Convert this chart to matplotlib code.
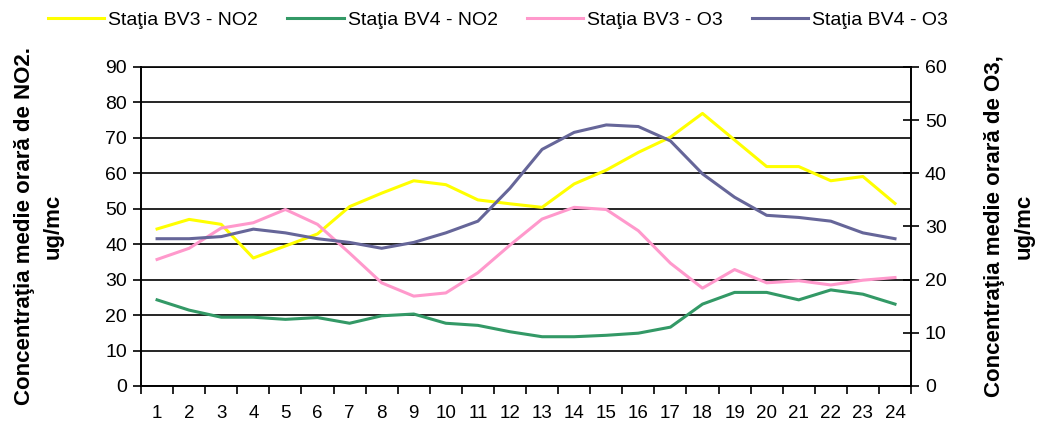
import matplotlib.pyplot as plt
import numpy as np

plt.rcParams['font.family'] = ['Liberation Sans', 'DejaVu Sans']

hours = list(range(1, 25))
bv3_no2 = [44.3, 47.0, 45.6, 36.1, 39.5, 42.9, 50.6, 54.4, 57.9, 56.8, 52.5, 51.4,
           50.4, 57.0, 60.9, 65.9, 70.2, 76.9, 69.4, 61.9, 61.9, 57.9, 59.1, 51.5]
bv4_no2 = [24.3, 21.4, 19.4, 19.4, 18.8, 19.3, 17.7, 19.8, 20.3, 17.7, 17.1, 15.3,
           13.9, 13.9, 14.3, 14.9, 16.6, 23.1, 26.4, 26.4, 24.3, 27.1, 25.9, 23.1]
bv3_o3 = [23.8, 25.9, 29.7, 30.7, 33.2, 30.4, 25.0, 19.4, 16.9, 17.5, 21.3, 26.5,
          31.4, 33.6, 33.2, 29.2, 23.1, 18.4, 21.9, 19.4, 19.8, 19.0, 19.9, 20.4]
bv4_o3 = [27.7, 27.7, 28.1, 29.5, 28.8, 27.7, 27.0, 25.9, 27.0, 28.8, 31.0, 37.2,
          44.5, 47.7, 49.1, 48.8, 46.1, 39.9, 35.5, 32.1, 31.7, 31.0, 28.8, 27.7]

labels = ['Staţia BV3 - NO2', 'Staţia BV4 - NO2', 'Staţia BV3 - O3', 'Staţia BV4 - O3']
colors = ['#FFFF00', '#339966', '#FF99CC', '#666699']

fig = plt.figure(figsize=(10.4, 4.25), dpi=100)
ax = fig.add_axes([0.1356, 0.0918, 0.7404, 0.7506])
ax2 = ax.twinx()

l1, = ax.plot(hours, bv3_no2, color=colors[0], lw=2.2, zorder=3)
l2, = ax.plot(hours, bv4_no2, color=colors[1], lw=2.2, zorder=3)
l3, = ax2.plot(hours, bv3_o3, color=colors[2], lw=2.2)
l4, = ax2.plot(hours, bv4_o3, color=colors[3], lw=2.2)

ax.set_xlim(0.5, 24.5)
ax.set_ylim(0, 90)
ax2.set_ylim(0, 60)
ax.set_yticks(np.arange(0, 91, 10))
ax2.set_yticks(np.arange(0, 61, 10))
ax.set_xticks(hours)
ax.set_xticks(np.arange(0.5, 25, 1), minor=True)
ax.tick_params(axis='x', which='major', length=0, labelsize=13.5, pad=14)
ax.tick_params(axis='x', which='minor', length=6, width=1.2, direction='out')
ax.tick_params(axis='y', length=6, width=1.2, direction='out', labelsize=14, pad=4)
ax2.tick_params(axis='y', length=12, width=1.2, direction='inout', labelsize=14, pad=4)

ax.yaxis.grid(True, color='black', lw=1.2)
ax.set_axisbelow(True)
for a in (ax, ax2):
    for s in a.spines.values():
        s.set_linewidth(1.2)
        s.set_color('black')
ax2.spines['top'].set_visible(False)

ax.set_ylabel('Concentraţia medie orară de NO2.\nug/mc', fontsize=16, fontweight='bold',
              labelpad=30, linespacing=1.5)
ax2.set_ylabel('Concentraţia medie orară de O3,\nug/mc', fontsize=16, fontweight='bold',
               rotation=90, labelpad=27, linespacing=1.5)

fig.legend([l1, l2, l3, l4], labels, loc='center', bbox_to_anchor=(0.479, 0.953),
           ncol=4, frameon=False, fontsize=14, handlelength=2.9, columnspacing=1.5,
           handletextpad=0.2)

fig.savefig('out.png', dpi=100)
